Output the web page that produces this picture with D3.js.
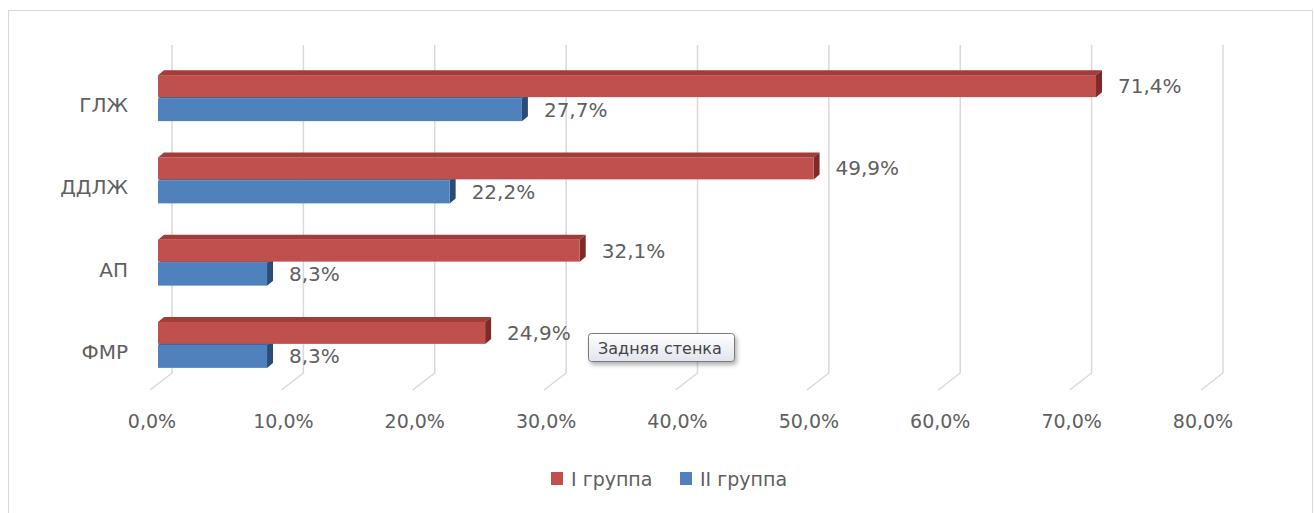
<!DOCTYPE html>
<html>
<head>
<meta charset="utf-8">
<script src="https://cdn.jsdelivr.net/npm/d3@7"></script>
<style>
    body { margin: 0; background: #fff; }
    text { font-family: "DejaVu Sans", sans-serif; }
</style>
</head>
<body>
<svg id="chart" width="1314" height="513"></svg>
<script>
const categories = ["ГЛЖ", "ДДЛЖ", "АП", "ФМР"];
const seriesNames = ["I группа", "II группа"];
const group1 = [0.714, 0.499, 0.321, 0.249];
const group2 = [0.277, 0.222, 0.083, 0.083];
const tickValues = [0, 0.1, 0.2, 0.3, 0.4, 0.5, 0.6, 0.7, 0.8];

const BAR_X = 158, BACK_X = 172, FLOOR_X = 150;
const DX = 6, DY = -5;
const TEXT = "#606060", GRID = "#d9d9d9";
const COLORS = [
    {front: "#c0504d", top: "#a13c39", side: "#7f2a28"},
    {front: "#4f81bd", top: "#3b6597", side: "#2a4d78"}
];

const ru = d3.formatLocale({decimal: ",", thousands: " ", grouping: [3], currency: ["", ""]});
const pct = ru.format(".1%");

let svg = d3.select("#chart");

let defs = svg.append("defs");
let grad = defs.append("linearGradient")
    .attr("id", "tipFill")
    .attr("x1", 0).attr("y1", 0).attr("x2", 0).attr("y2", 1);
grad.append("stop").attr("offset", "0%").attr("stop-color", "#ffffff");
grad.append("stop").attr("offset", "100%").attr("stop-color", "#e2e4ee");
let shadow = defs.append("filter").attr("id", "tipShadow")
    .attr("x", "-10%").attr("y", "-20%").attr("width", "130%").attr("height", "170%");
shadow.append("feDropShadow")
    .attr("dx", 2).attr("dy", 3).attr("stdDeviation", 2)
    .attr("flood-color", "#000").attr("flood-opacity", 0.3);

// outer frame
svg.append("rect")
    .attr("x", 8.5).attr("y", 10.5)
    .attr("width", 1304).attr("height", 520)
    .attr("fill", "none")
    .attr("stroke", "#d9d9d9")
    .attr("stroke-width", 1);

let x = d3.scaleLinear().domain([0, 0.8]).range([0, 1051]);
let y = d3.scaleBand().domain(categories).range([56, 385]);

// back wall grid + floor slant
let grid = svg.append("g").attr("class", "grid");
grid.selectAll("path")
    .data(tickValues)
    .join("path")
    .attr("d", d => "M" + (BACK_X + x(d)) + ",45 V373 L" + (FLOOR_X + x(d)) + ",390")
    .attr("fill", "none")
    .attr("stroke", GRID)
    .attr("stroke-width", 1.5);

svg.append("g").selectAll("text")
    .data(tickValues)
    .join("text")
    .attr("x", d => FLOOR_X + x(d) + 2)
    .attr("y", 421)
    .attr("text-anchor", "middle")
    .attr("dominant-baseline", "central")
    .attr("font-size", 19)
    .attr("fill", TEXT)
    .text(d => pct(d));

svg.append("g").selectAll("text")
    .data(categories)
    .join("text")
    .attr("x", 128)
    .attr("y", d => y(d) + y.bandwidth() / 2 + 8)
    .attr("text-anchor", "end")
    .attr("dominant-baseline", "central")
    .attr("font-size", 20)
    .attr("fill", TEXT)
    .text(d => d);

let bars = [];
categories.forEach((c, i) => {
    let mid = y(c) + y.bandwidth() / 2;
    bars.push({cat: c, value: group2[i], s: 1, top: mid + 1, bottom: mid + 24});
    bars.push({cat: c, value: group1[i], s: 0, top: mid - 22, bottom: mid});
});

let barG = svg.append("g").selectAll("g")
    .data(bars)
    .join("g");

barG.append("path")
    .attr("d", d => {
        let x1 = BAR_X + x(d.value);
        return "M" + BAR_X + "," + d.top + " L" + (BAR_X + DX) + "," + (d.top + DY) +
            " L" + (x1 + DX) + "," + (d.top + DY) + " L" + x1 + "," + d.top + "Z";
    })
    .attr("fill", d => COLORS[d.s].top);

barG.append("path")
    .attr("d", d => {
        let x1 = BAR_X + x(d.value);
        return "M" + x1 + "," + d.top + " L" + (x1 + DX) + "," + (d.top + DY) +
            " L" + (x1 + DX) + "," + (d.bottom + DY) + " L" + x1 + "," + d.bottom + "Z";
    })
    .attr("fill", d => COLORS[d.s].side);

barG.append("rect")
    .attr("x", BAR_X)
    .attr("y", d => d.top)
    .attr("width", d => x(d.value))
    .attr("height", d => d.bottom - d.top)
    .attr("fill", d => COLORS[d.s].front);

barG.append("text")
    .attr("x", d => BAR_X + x(d.value) + DX + 16)
    .attr("y", d => (d.top + d.bottom) / 2)
    .attr("dominant-baseline", "central")
    .attr("font-size", 20)
    .attr("fill", TEXT)
    .text(d => pct(d.value));

// tooltip left on the picture
let tip = svg.append("g").attr("transform", "translate(588,333)");
tip.append("rect")
    .attr("x", 0.5).attr("y", 0.5)
    .attr("width", 146).attr("height", 28)
    .attr("rx", 3)
    .attr("fill", "url(#tipFill)")
    .attr("stroke", "#7a7a7a")
    .attr("filter", "url(#tipShadow)");
tip.append("text")
    .attr("x", 10)
    .attr("y", 15)
    .attr("dominant-baseline", "central")
    .attr("font-size", 16)
    .attr("fill", "#444")
    .text("Задняя стенка");

// legend
let legend = svg.append("g").selectAll("g")
    .data(seriesNames)
    .join("g")
    .attr("transform", (d, i) => "translate(" + (551 + i * 129) + ",472)");
legend.append("rect")
    .attr("width", 12)
    .attr("height", 13)
    .attr("fill", (d, i) => COLORS[i].front);
legend.append("text")
    .attr("x", 20)
    .attr("y", 7)
    .attr("dominant-baseline", "central")
    .attr("font-size", 19)
    .attr("fill", TEXT)
    .text(d => d);
</script>
</body>
</html>
